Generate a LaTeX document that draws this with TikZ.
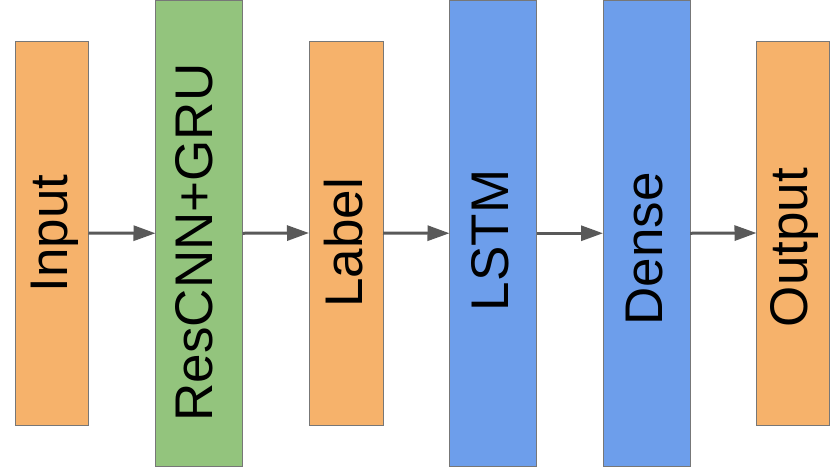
\documentclass[tikz,border=0pt]{standalone}
\usepackage{fontspec}
\setmainfont{Liberation Sans}
\usetikzlibrary{arrows.meta}
\definecolor{orangebox}{HTML}{F6B26B}
\definecolor{greenbox}{HTML}{93C47D}
\definecolor{bluebox}{HTML}{6D9EEB}
\definecolor{boxline}{HTML}{777777}
\definecolor{arrowgray}{HTML}{595959}
\begin{document}
\begin{tikzpicture}[x=1pt,y=-1pt,
  layer/.style={draw=boxline,line width=1pt,inner sep=0pt,outer sep=0pt},
  txt/.style={rotate=90,anchor=base,inner sep=0pt,font=\fontsize{53}{60}\selectfont},
  flow/.style={draw=arrowgray,line width=3pt,-{Triangle[length=22pt,width=15pt]}}]
\useasboundingbox (0,0) rectangle (830,467);
% boxes
\node[layer,fill=orangebox,minimum width=73pt,minimum height=384pt] (in) at (52,233) {};
\node[layer,fill=greenbox,minimum width=87pt,minimum height=465.5pt] (res) at (199,233.25) {};
\node[layer,fill=orangebox,minimum width=74pt,minimum height=384pt] (lab) at (346,233) {};
\node[layer,fill=bluebox,minimum width=87pt,minimum height=465.5pt] (lstm) at (493,233.25) {};
\node[layer,fill=bluebox,minimum width=87pt,minimum height=465.5pt] (den) at (646.5,233.25) {};
\node[layer,fill=orangebox,minimum width=73pt,minimum height=384pt] (out) at (793,233) {};
% texts
\node[txt] (tin) at (67,233.5) {Input};
\node[txt] (tres) at (212.5,242.5) {ResCNN+GRU};
\node[txt] (tlab) at (362,243) {Label};
\node[txt] (tlstm) at (508,240.5) {LSTM};
\node[txt] (tden) at (662,249) {Dense};
\node[txt] (tout) at (807,247.5) {Output};
% arrows
\draw[flow] (in.east) -- (res.west);
\draw[flow] (res.east) -- (lab.west);
\draw[flow] (lab.east) -- (lstm.west);
\draw[flow] (lstm.east) -- (den.west);
\draw[flow] (den.east) -- (out.west);
\end{tikzpicture}
\end{document}
